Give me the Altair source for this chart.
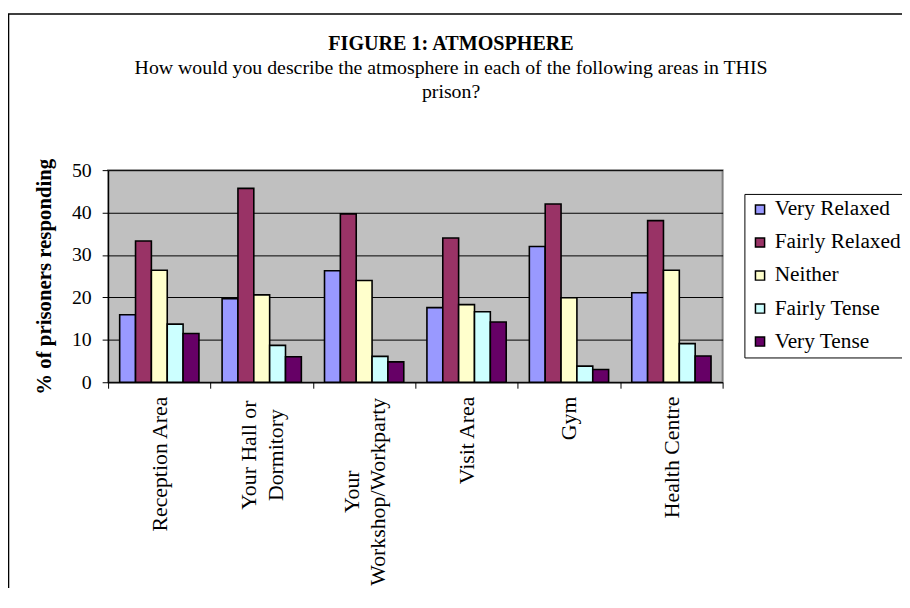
import altair as alt
import pandas as pd

areas = ["Reception Area", "Your Hall or Dormitory", "Your Workshop/Workparty",
         "Visit Area", "Gym", "Health Centre"]
area_lines = [["Reception Area"],
              ["Your Hall or", "Dormitory"],
              ["Your", "Workshop/Workparty"],
              ["Visit Area"], ["Gym"], ["Health Centre"]]
series = ["Very Relaxed", "Fairly Relaxed", "Neither", "Fairly Tense", "Very Tense"]
colors = ["#9999FF", "#993366", "#FFFFCC", "#CCFFFF", "#660066"]

very_relaxed = [15.9, 19.7, 26.3, 17.6, 32.0, 21.1]
fairly_relaxed = [33.3, 45.7, 39.7, 34.0, 42.0, 38.1]
neither = [26.4, 20.6, 24.0, 18.3, 19.9, 26.4]
fairly_tense = [13.7, 8.7, 6.1, 16.6, 3.8, 9.1]
very_tense = [11.5, 6.0, 4.8, 14.2, 3.0, 6.2]
y_ticks = [0, 10, 20, 30, 40, 50]

values = [very_relaxed, fairly_relaxed, neither, fairly_tense, very_tense]
rows = []
for s, vals in zip(series, values):
    for a, v in zip(areas, vals):
        rows.append({"area": a, "series": s, "pct": v})
df = pd.DataFrame(rows)

# label expression: map each category to its display lines
def js_list(lines):
    return "[" + ",".join("'" + l + "'" for l in lines) + "]"

label_expr = "datum.value"
for a, lines in reversed(list(zip(areas, area_lines))):
    label_expr = f"datum.value === '{a}' ? {js_list(lines)} : ({label_expr})"

two_line = [a for a, l in zip(areas, area_lines) if len(l) > 1]
two_line_test = "indexof([" + ",".join("'" + a + "'" for a in two_line) + "], datum.value) >= 0"

FONT = "Liberation Serif"
LABEL_SIZE = 22

bars = alt.Chart(df).mark_bar(stroke="black", strokeWidth=1.6).encode(
    x=alt.X("area:N", sort=areas,
            scale=alt.Scale(paddingInner=0, paddingOuter=0),
            axis=alt.Axis(title=None, labelAngle=270,
                          labelAlign={"condition": {"test": two_line_test, "value": "center"},
                                      "value": "right"},
                          labelPadding={"condition": [
                              {"test": f"datum.value === '{two_line[0]}'", "value": 67},
                              {"test": f"datum.value === '{two_line[1]}'", "value": 104}],
                              "value": 8},
                          labelOffset={"condition": {"test": two_line_test, "value": -13},
                                       "value": 0},
                          labelBaseline="middle",
                          labelFont=FONT, labelFontSize=LABEL_SIZE, labelColor="black",
                          labelLineHeight=27, labelLimit=400, labelExpr=label_expr,
                          labelOverlap=False,
                          tickBand="extent", tickSize=6, tickColor="black",
                          domainColor="black", domainWidth=1.2, grid=False)),
    xOffset=alt.XOffset("series:N", sort=series,
                        scale=alt.Scale(paddingInner=0, paddingOuter=0.73)),
    y=alt.Y("pct:Q", scale=alt.Scale(domain=[0, 50], nice=False),
            axis=alt.Axis(title="% of prisoners responding", values=y_ticks,
                          titleFont=FONT, titleFontSize=21, titleFontWeight="bold",
                          titleColor="black", titlePadding=17,
                          labelFont=FONT, labelFontSize=20, labelColor="black",
                          labelPadding=11, tickSize=6, tickColor="black",
                          domainColor="black", domainWidth=1.2,
                          grid=True, gridColor="black", gridWidth=1)),
    color=alt.Color("series:N", sort=series,
                    scale=alt.Scale(domain=series, range=colors),
                    legend=alt.Legend(title=None, orient="none", legendX=642, legendY=24,
                                      labelFont=FONT, labelFontSize=21.5, labelColor="black",
                                      symbolType="square", symbolSize=85,
                                      symbolStrokeColor="black", symbolStrokeWidth=1.5,
                                      symbolOpacity=1,
                                      labelOffset=4, rowPadding=10.3, padding=5,
                                      strokeColor="black", fillColor="white",
                                      cornerRadius=0)),
)

frame = alt.Chart(alt.Data(values=[{}])).mark_rect(
    fillOpacity=0, stroke="black", strokeWidth=1.6
).encode(x=alt.value(-100.5), x2=alt.value(1200), y=alt.value(-157.5), y2=alt.value(1200))

chart = alt.layer(bars, frame).properties(
    width=620, height=214,
    title=alt.Title(text="FIGURE 1:  ATMOSPHERE",
                    subtitle=["How would you describe the atmosphere in each of the following areas in THIS",
                              "prison?"],
                    font=FONT, fontSize=20.3, fontWeight="bold", color="black",
                    subtitleFont=FONT, subtitleFontSize=20, subtitleColor="black",
                    subtitleLineHeight=25, subtitlePadding=4,
                    anchor="middle", dx=36, dy=90, offset=0),
    autosize=alt.AutoSizeParams(type="none"),
    padding={"left": 101, "top": 161, "right": 181, "bottom": 205},
    background="white",
).configure_view(fill="#C0C0C0", stroke="#808080", strokeWidth=2)

chart.save("out.html", embed_options={"renderer": "svg", "actions": False})
